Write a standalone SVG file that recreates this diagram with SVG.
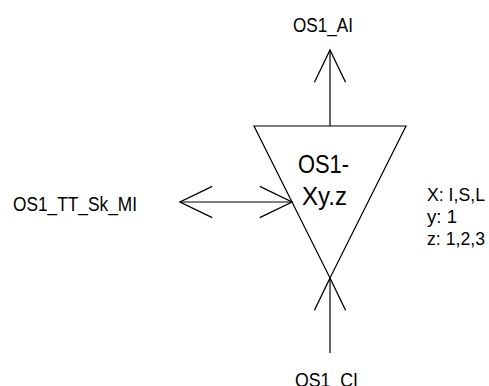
<svg xmlns="http://www.w3.org/2000/svg" width="489" height="386" viewBox="0 0 489 386">
<style>
  .ln { fill: none; stroke: #000; stroke-width: 1.2; }
  .lbl { font-family: "Liberation Sans", Arial, sans-serif; font-size: 21px; fill: #000; }
  .leg { font-family: "Liberation Sans", Arial, sans-serif; font-size: 19px; fill: #000; }
  .big { font-family: "Liberation Sans", Arial, sans-serif; font-size: 26px; fill: #000; }
</style>
<defs>
  <marker id="open" markerUnits="userSpaceOnUse" markerWidth="40" markerHeight="40" viewBox="-32 -18 36 36" refX="0" refY="0" orient="auto-start-reverse" overflow="visible">
    <path d="M-29,-14 L0,0 L-29,14" fill="none" stroke="#000" stroke-width="1.2"/>
  </marker>
</defs>
<rect width="489" height="386" fill="#fff"/>
<g id="connectors">
  <line class="ln" x1="330" y1="126" x2="330" y2="50" marker-end="url(#open)"/>
  <line class="ln" x1="180" y1="202" x2="292" y2="202" marker-start="url(#open)" marker-end="url(#open)"/>
  <line class="ln" x1="330" y1="353" x2="330" y2="278" marker-end="url(#open)"/>
</g>
<g id="node-os1">
  <polygon class="ln" points="254,126 406,126 330,278"/>
  <text class="big" x="298" y="173" textLength="51" lengthAdjust="spacingAndGlyphs">OS1-</text>
  <text class="big" x="302" y="205" textLength="45" lengthAdjust="spacingAndGlyphs">Xy.z</text>
</g>
<g id="node-ai">
  <text class="lbl" x="293" y="32" textLength="60" lengthAdjust="spacingAndGlyphs">OS1_AI</text>
</g>
<g id="node-mi">
  <text class="lbl" x="13" y="211" textLength="124" lengthAdjust="spacingAndGlyphs">OS1_TT_Sk_MI</text>
</g>
<g id="node-ci">
  <text class="lbl" x="295" y="387" textLength="63" lengthAdjust="spacingAndGlyphs">OS1_CI</text>
</g>
<g id="legend">
  <text class="leg" x="427" y="201" textLength="58" lengthAdjust="spacingAndGlyphs">X: I,S,L</text>
  <text class="leg" x="427" y="223" textLength="30" lengthAdjust="spacingAndGlyphs">y: 1</text>
  <text class="leg" x="427" y="245" textLength="58" lengthAdjust="spacingAndGlyphs">z: 1,2,3</text>
</g>
</svg>
